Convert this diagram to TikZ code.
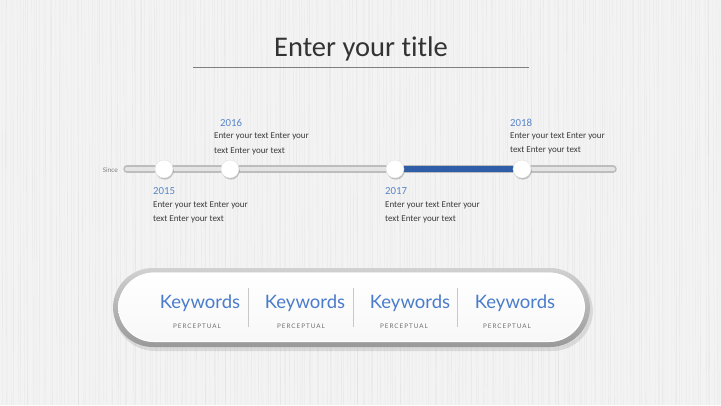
\documentclass[tikz,border=0pt]{standalone}
\usepackage{fontspec}
\setmainfont{Carlito}[Ligatures=NoCommon]
\newfontfamily\kwfont{Lato}
\newfontfamily\capfont[LetterSpace=16]{Lato}
\usetikzlibrary{shadows}
\definecolor{bg}{HTML}{F3F3F3}
\definecolor{titlec}{HTML}{333333}
\definecolor{linec}{HTML}{7F7F7F}
\definecolor{trackdark}{HTML}{BDBDBD}
\definecolor{tracklight}{HTML}{E4E4E4}
\definecolor{bluebar}{HTML}{2F5DA8}
\definecolor{yearblue}{HTML}{5A86C8}
\definecolor{descc}{HTML}{3A3A3A}
\definecolor{kwblue}{HTML}{4A7CCB}
\definecolor{capc}{HTML}{6E6E6E}
\definecolor{sepc}{HTML}{C8C8C8}
\tikzset{
  knob/.style={circle, minimum size=18pt, inner sep=0pt, fill=white, draw=black!12, line width=0.4pt,
    drop shadow={shadow xshift=0.8pt, shadow yshift=-1.6pt, opacity=0.35, fill=black!60}},
  year/.style={font=\fontsize{10.8}{12}\selectfont, text=yearblue, anchor=base west, inner sep=0pt},
  desc/.style={font=\fontsize{9}{11}\selectfont, text=descc, anchor=base west, inner sep=0pt},
  kw/.style={font=\kwfont\fontsize{18.5}{22}\selectfont, text=kwblue, anchor=base, inner sep=0pt},
  capt/.style={font=\capfont\fontsize{6.3}{7}\selectfont, text=capc, anchor=base, inner sep=0pt},
  sep/.style={draw=sepc, line width=0.8pt}
}
\begin{document}
\begin{tikzpicture}[x=1pt,y=-1pt]
\fill[bg] (0,0) rectangle (721,405);
\useasboundingbox (0,0) rectangle (721,405);
% texture
\pgfmathsetseed{11}
\foreach \i in {0,...,239}{
  \pgfmathsetmacro\xx{3*\i+3*rnd}
  \draw[black, opacity=0.035, line width=0.6pt] (\xx,0) -- (\xx+2*rnd,405);
}
% title
\node[font=\fontsize{28.5}{32}\selectfont, text=titlec, anchor=base, inner sep=0pt] (title) at (361,56) {Enter your title};
\coordinate (ul1) at (193,67);
\coordinate (ul2) at (529,67);
\draw[linec, line width=1pt] (ul1) -- (ul2);

% track
\coordinate (ts) at (127,169);
\coordinate (te) at (613,169);
\draw[trackdark, line width=7.5pt, line cap=round] (ts) -- (te);
\draw[tracklight, line width=4.2pt, line cap=round, yshift=0.4pt] (ts) -- (te);
\node[font=\fontsize{7}{8}\selectfont, text=black!50, anchor=east, inner sep=0pt] (since) at (118,170) {Since};

\coordinate (b1) at (395,169);
\coordinate (b2) at (522,169);
\draw[bluebar, line width=6pt] (b1) -- (b2);

\node[knob] (k1) at (164,169) {};
\node[knob] (k2) at (230,169) {};
\node[knob] (k3) at (395,169) {};
\node[knob] (k4) at (522,169) {};

% labels
\node[year] (y1) at (153,194) {2015};
\node[desc] (d1a) at (153,207) {Enter your text Enter your};
\node[desc] (d1b) at (153,221) {text Enter your text};

\node[year] (y2) at (220,126) {2016};
\node[desc] (d2a) at (214,138) {Enter your text Enter your};
\node[desc] (d2b) at (214,153) {text Enter your text};

\node[year] (y3) at (385,194) {2017};
\node[desc] (d3a) at (385,207) {Enter your text Enter your};
\node[desc] (d3b) at (385,221) {text Enter your text};

\node[year] (y4) at (510,126) {2018};
\node[desc] (d4a) at (510,138) {Enter your text Enter your};
\node[desc] (d4b) at (510,152) {text Enter your text};

% pill
\fill[black, opacity=0.10, rounded corners=41pt] (114,271) rectangle (593,351);
\shade[top color=black!18, bottom color=black!40, rounded corners=40pt] (113,268) rectangle (590,347);
\shade[top color=white, bottom color=black!3, rounded corners=36pt] (118,272.5) rectangle (585,342);
\draw[white, line width=0.8pt, rounded corners=36pt] (118.5,273) rectangle (584.5,341.5);

\node[kw] (kw1) at (200,308) {Keywords};
\node[kw] (kw2) at (305,308) {Keywords};
\node[kw] (kw3) at (410,308.5) {Keywords};
\node[kw] (kw4) at (515,308.5) {Keywords};

\node[capt] (c1) at (197,328.5) {PERCEPTUAL};
\node[capt] (c2) at (301,328.5) {PERCEPTUAL};
\node[capt] (c3) at (404,328.5) {PERCEPTUAL};
\node[capt] (c4) at (507,328.5) {PERCEPTUAL};

\coordinate (s1t) at (248,288); \coordinate (s1b) at (248,327);
\coordinate (s2t) at (353,288); \coordinate (s2b) at (353,327);
\coordinate (s3t) at (457,288); \coordinate (s3b) at (457,327);
\draw[sep] (s1t) -- (s1b);
\draw[sep] (s2t) -- (s2b);
\draw[sep] (s3t) -- (s3b);
\end{tikzpicture}
\end{document}
